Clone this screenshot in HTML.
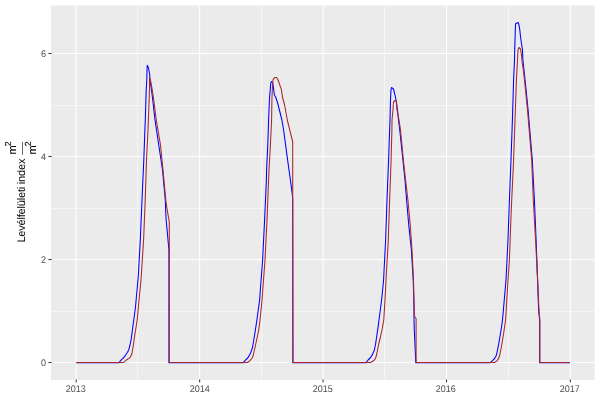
<!DOCTYPE html>
<html><head><meta charset="utf-8"><style>
html,body{margin:0;padding:0;background:#fff;}
svg{display:block;will-change:transform;}
text{font-family:"Liberation Sans",sans-serif;font-size:8.8px;fill:#4D4D4D;text-rendering:geometricPrecision;}
</style></head><body>
<svg width="600" height="400" viewBox="0 0 600 400">
<rect x="0" y="0" width="600" height="400" fill="#FFFFFF"/>
<rect x="51.0" y="5.5" width="543.60" height="374.50" fill="#EBEBEB"/>
<line x1="51.0" x2="594.6" y1="311.50" y2="311.50" stroke="#FFFFFF" stroke-width="0.53"/>
<line x1="51.0" x2="594.6" y1="208.50" y2="208.50" stroke="#FFFFFF" stroke-width="0.53"/>
<line x1="51.0" x2="594.6" y1="105.50" y2="105.50" stroke="#FFFFFF" stroke-width="0.53"/>
<line y1="5.5" y2="380.0" x1="137.50" x2="137.50" stroke="#FFFFFF" stroke-width="0.53"/>
<line y1="5.5" y2="380.0" x1="261.50" x2="261.50" stroke="#FFFFFF" stroke-width="0.53"/>
<line y1="5.5" y2="380.0" x1="384.50" x2="384.50" stroke="#FFFFFF" stroke-width="0.53"/>
<line y1="5.5" y2="380.0" x1="508.50" x2="508.50" stroke="#FFFFFF" stroke-width="0.53"/>
<line x1="51.0" x2="594.6" y1="362.50" y2="362.50" stroke="#FFFFFF" stroke-width="1.07"/>
<line x1="51.0" x2="594.6" y1="259.50" y2="259.50" stroke="#FFFFFF" stroke-width="1.07"/>
<line x1="51.0" x2="594.6" y1="156.50" y2="156.50" stroke="#FFFFFF" stroke-width="1.07"/>
<line x1="51.0" x2="594.6" y1="53.50" y2="53.50" stroke="#FFFFFF" stroke-width="1.07"/>
<line y1="5.5" y2="380.0" x1="76.20" x2="76.20" stroke="#FFFFFF" stroke-width="1.07"/>
<line y1="5.5" y2="380.0" x1="199.64" x2="199.64" stroke="#FFFFFF" stroke-width="1.07"/>
<line y1="5.5" y2="380.0" x1="323.08" x2="323.08" stroke="#FFFFFF" stroke-width="1.07"/>
<line y1="5.5" y2="380.0" x1="446.52" x2="446.52" stroke="#FFFFFF" stroke-width="1.07"/>
<line y1="5.5" y2="380.0" x1="570.30" x2="570.30" stroke="#FFFFFF" stroke-width="1.07"/>
<polyline points="76.2,362.8 119,362.8 120.5,360.6 123,358.3 125.5,355.3 127.5,352.3 128.9,349.4 130,345 131.25,338.75 132.75,327.5 133.75,320 135.5,307 138.3,276 140.3,240 142,200 143.8,160 144.9,130 145.3,120 146.2,90 146.8,80 147,70 147.25,65.25 148.5,68 149.75,75 150,80 151.5,90 152.75,100 155,120 158.75,145 162.5,170 165.3,200 166,218 168,240 168.95,250 168.95,362.8 243,362.8 245,360.6 248.1,357.5 250.6,353.1 252.5,347.5 253.75,340 255,332.5 256.9,320 259.6,300 262.6,260 263.6,240 264.6,220 266.4,180 266.6,170 267.9,142 268.6,120 269,110 269.4,100 270.6,85 270.9,82.6 271.6,81.6 272.3,81.9 273.1,85 274.4,95 275.6,97 277.5,102.5 279.4,110 281.9,120 283.6,130 287.6,160 290.4,180 292.4,195 292.7,200 293,362.8 365.6,362.8 368.1,360 370.6,357.5 372.5,354.4 374.4,350 375.6,343.75 376.9,335 378.1,326.9 379,320 381.6,300 383.6,280 385.6,240 387,200 388.6,160 390,120 390.5,100 391,90 391.5,87.5 393.5,89 395,95 396,100 397.5,110 398.5,120 399.75,130 402.9,160 405,180 406.6,200 408.75,225 411.4,250 413.2,280 413.8,300 414,310 414,320 414.3,330 415.8,362.8 490,362.8 492.5,360.6 494.4,358.75 496.25,355.6 497.5,350 498.75,343.75 500,336.25 501.25,328.75 502.5,320 506,280 508,240 509.4,200 511,160 512.4,120 513.6,80 514.5,60 514.7,50 515,40 515.3,30 515.6,23.8 516.5,23.2 518.1,22.5 519,25 519.8,30 520.6,37.5 522.5,50 522.9,60 525.6,85 528.1,110 532.3,160 534.4,200 536.1,240 537.6,280 538.6,310 539.6,320 539.6,362.8 569.9,362.8" fill="none" stroke="#0000FF" stroke-width="1.07" stroke-linejoin="round"/>
<polyline points="76.2,362.5 123.75,362.5 125.6,360.5 127.5,359.2 129.4,358.1 130.8,356.3 131.9,353.75 133,347.5 134.4,337.5 135.6,330 137.2,320 139,300 141,280 143.6,240 145.2,200 146.5,160 148,130 148.4,120 149.5,90 149.5,78 150.5,80 152.3,90 153.75,100 156.25,120 160.5,145 163,170 165.8,200 166.9,208 168.75,219 169.3,222 169.25,362.5 247.5,362.5 250,360.6 252.5,357.5 253.75,353.1 255,347.5 256.6,340 258.75,330 260,320 262,300 265,260 266,240 267,220 268.6,180 269,170 270.4,145 271.6,120 271.9,100 272.5,85 273.1,79.4 275,77.5 276.6,77.5 278.1,80 280,85.6 281.25,89 282.6,97.5 284.6,105 287.3,120 291,135 292.7,142 292.7,362.5 370.6,362.5 373.1,361 375,359.4 376.25,356.25 377.5,350 378.75,343.75 380.6,336.25 382.5,327.5 383.75,320 385,300 386,280 388.3,240 389.6,200 390.4,180 391.1,160 391.9,130 392,120 392.5,115 393,110 393.5,102 395,100.5 396.5,101 397,110 399,120 400.5,130 403.4,160 405.6,180 407.9,200 410.25,225 412,250 413.5,280 414,300 414.2,310 414.6,316.5 416.1,318.5 416.1,362.5 494.4,362.5 496.9,361 498.75,358.1 500,353.75 501.25,347.5 502.5,340 503.75,332.5 505.6,320 508,280 509.4,260 511.25,210 513.6,160 515,120 516.4,80 517.5,60 518,50 519,47.5 520.5,49 521.5,55 521.9,60 523.6,72 525,85 527.5,110 531.7,160 533.3,200 535.6,240 537.6,280 539,310 539.85,320 539.85,362.5 569.7,362.5" fill="none" stroke="#A8282E" stroke-width="1.07" stroke-linejoin="round"/>
<line x1="48.45" x2="51.55" y1="362.50" y2="362.50" stroke="#333333" stroke-width="1.07"/>
<line x1="48.45" x2="51.55" y1="259.50" y2="259.50" stroke="#333333" stroke-width="1.07"/>
<line x1="48.45" x2="51.55" y1="156.50" y2="156.50" stroke="#333333" stroke-width="1.07"/>
<line x1="48.45" x2="51.55" y1="53.50" y2="53.50" stroke="#333333" stroke-width="1.07"/>
<line y1="379.5" y2="382.25" x1="76.20" x2="76.20" stroke="#333333" stroke-width="1.07"/>
<line y1="379.5" y2="382.25" x1="199.64" x2="199.64" stroke="#333333" stroke-width="1.07"/>
<line y1="379.5" y2="382.25" x1="323.08" x2="323.08" stroke="#333333" stroke-width="1.07"/>
<line y1="379.5" y2="382.25" x1="446.52" x2="446.52" stroke="#333333" stroke-width="1.07"/>
<line y1="379.5" y2="382.25" x1="570.30" x2="570.30" stroke="#333333" stroke-width="1.07"/>
<text x="46.0" y="365.70" text-anchor="end" textLength="5" lengthAdjust="spacingAndGlyphs" style="font-size:9.6px">0</text>
<text x="46.0" y="262.70" text-anchor="end" textLength="5" lengthAdjust="spacingAndGlyphs" style="font-size:9.6px">2</text>
<text x="46.0" y="159.70" text-anchor="end" textLength="5" lengthAdjust="spacingAndGlyphs" style="font-size:9.6px">4</text>
<text x="46.0" y="56.70" text-anchor="end" textLength="5" lengthAdjust="spacingAndGlyphs" style="font-size:9.6px">6</text>
<text x="75.80" y="391.8" text-anchor="middle" textLength="20" lengthAdjust="spacingAndGlyphs" style="font-size:9.6px">2013</text>
<text x="199.75" y="391.8" text-anchor="middle" textLength="20" lengthAdjust="spacingAndGlyphs" style="font-size:9.6px">2014</text>
<text x="322.75" y="391.8" text-anchor="middle" textLength="20" lengthAdjust="spacingAndGlyphs" style="font-size:9.6px">2015</text>
<text x="445.65" y="391.8" text-anchor="middle" textLength="20" lengthAdjust="spacingAndGlyphs" style="font-size:9.6px">2016</text>
<text x="569.75" y="391.8" text-anchor="middle" textLength="20" lengthAdjust="spacingAndGlyphs" style="font-size:9.6px">2017</text>
<g transform="translate(25.0,242.6) rotate(-90)"><text x="0" y="0" textLength="84.0" lengthAdjust="spacing" style="font-size:11px;fill:#000000">Levélfelületi index</text></g>
<line x1="22.5" x2="22.5" y1="141.9" y2="154.8" stroke="#000000" stroke-width="0.6"/>
<g transform="translate(16.3,154.6) rotate(-90)"><text x="0" y="0" style="font-size:11px;fill:#000000;stroke:#000000;stroke-width:0.12px">m</text><text x="8.3" y="-5.1" style="font-size:8.8px;fill:#000000;stroke:#000000;stroke-width:0.12px">2</text></g>
<g transform="translate(36.0,154.6) rotate(-90)"><text x="0" y="0" style="font-size:11px;fill:#000000;stroke:#000000;stroke-width:0.12px">m</text><text x="8.3" y="-5.1" style="font-size:8.8px;fill:#000000;stroke:#000000;stroke-width:0.12px">2</text></g>
</svg>
</body></html>
